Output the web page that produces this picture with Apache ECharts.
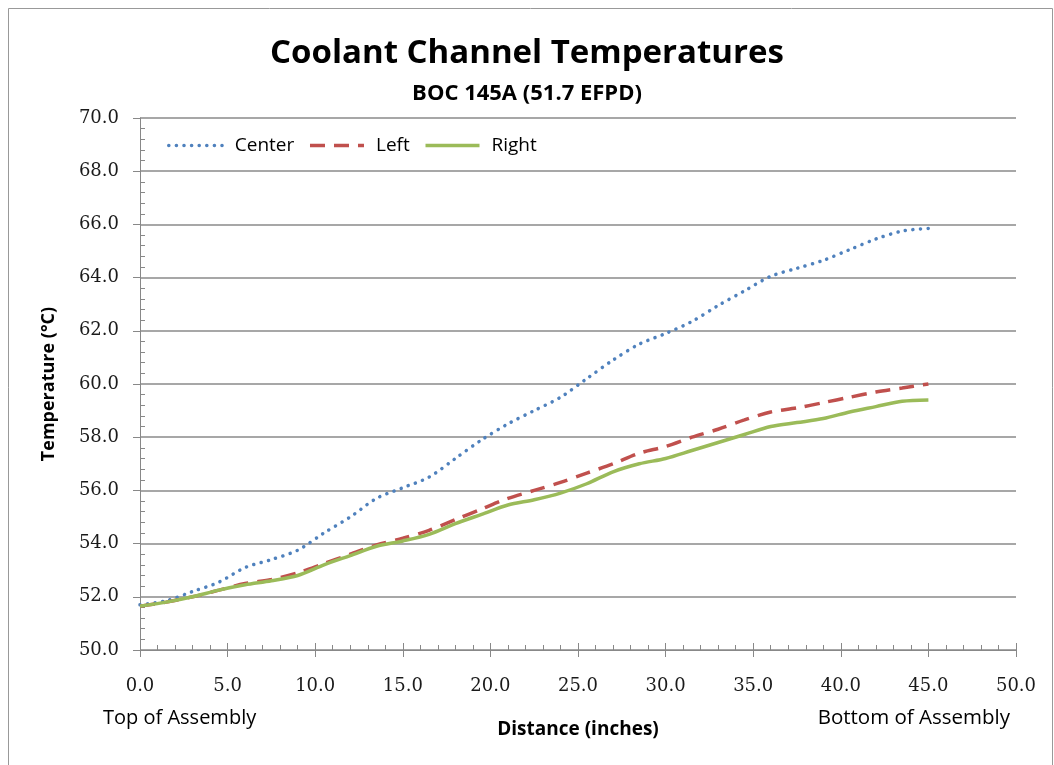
<!DOCTYPE html>
<html>
<head>
<meta charset="utf-8">
<script src="https://cdn.jsdelivr.net/npm/echarts@6/dist/echarts.min.js"></script>
<style>
  html, body { margin: 0; padding: 0; background: #fff; }
  #chart { width: 1054px; height: 765px; }
</style>
</head>
<body>
<div id="chart"></div>
<script>
// distance along the channel (inches)
const distance = [0, 1.5, 3, 4.5, 6, 7.5, 9, 10.5, 12, 13.5, 15, 16.5, 18, 19.5, 21, 22.5,
  24, 25.5, 27, 28.5, 30, 31.5, 33, 34.5, 36, 37.5, 39, 40.5, 42, 43.5, 45]

// temperatures (°C)
const centerTemp = [51.7, 51.85, 52.2, 52.55, 53.1, 53.4, 53.75, 54.4, 55.0, 55.7, 56.1, 56.5,
  57.2, 57.9, 58.5, 59.0, 59.5, 60.2, 60.9, 61.5, 61.9, 62.35, 62.95, 63.5, 64.05, 64.35,
  64.65, 65.05, 65.45, 65.75, 65.85]
const leftTemp = [51.65, 51.8, 52.0, 52.25, 52.5, 52.65, 52.9, 53.25, 53.6, 53.95, 54.2, 54.5,
  54.9, 55.3, 55.7, 56.0, 56.3, 56.65, 57.0, 57.4, 57.65, 58.0, 58.3, 58.65, 58.95, 59.1,
  59.3, 59.5, 59.7, 59.85, 60.0]
const rightTemp = [51.65, 51.8, 52.0, 52.25, 52.45, 52.6, 52.8, 53.2, 53.55, 53.9, 54.1, 54.35,
  54.75, 55.1, 55.45, 55.65, 55.9, 56.25, 56.7, 57.0, 57.2, 57.5, 57.8, 58.1, 58.4, 58.55,
  58.7, 58.95, 59.15, 59.35, 59.4]

const seriesNames = ['Center', 'Left', 'Right']

const pairs = (ys) => distance.map((x, i) => [x, ys[i]])

const chart = echarts.init(document.getElementById('chart'))

const tickFont = { fontFamily: 'DejaVu Serif', fontSize: 18, color: '#1a1a1a' }
const sans = '"Open Sans", "Noto Sans", sans-serif'
const axisGray = '#888'

// second axes only carry the inward minor ticks (Excel style)
const minorOnly = (extra) => Object.assign({
  type: 'value',
  axisLine: { show: false },
  axisLabel: { show: false },
  splitLine: { show: false },
  minorTick: { show: true, splitNumber: 5, length: 5, lineStyle: { color: axisGray } }
}, extra)

const option = {
  animation: false,
  backgroundColor: '#fff',
  title: [
    {
      text: 'Coolant Channel Temperatures',
      left: 'center', top: 32,
      textStyle: { fontFamily: sans, fontSize: 33, fontWeight: 'bold', color: '#000' }
    },
    {
      text: 'BOC 145A (51.7 EFPD)',
      left: 'center', top: 78,
      textStyle: { fontFamily: sans, fontSize: 22, fontWeight: 'bold', color: '#000' }
    }
  ],
  legend: {
    data: seriesNames,
    left: 162, top: 131,
    itemWidth: 54, itemHeight: 14, itemGap: 14,
    itemStyle: { opacity: 0 },
    lineStyle: { width: 3.5 },
    textStyle: { fontFamily: sans, fontSize: 19, color: '#000', padding: [0, 0, 0, 7] }
  },
  grid: { left: 140, right: 38, top: 118, bottom: 115, containLabel: false },
  xAxis: [
    {
      type: 'value', min: 0, max: 50, interval: 5,
      name: 'Distance (inches)', nameLocation: 'middle', nameGap: 70,
      nameTextStyle: { fontFamily: sans, fontSize: 19, fontWeight: 'bold', color: '#000' },
      axisLine: { onZero: false, lineStyle: { color: axisGray, width: 1 } },
      axisTick: { show: true, length: 7, lineStyle: { color: axisGray } },
      axisLabel: Object.assign({ margin: 27, formatter: (v) => v.toFixed(1) }, tickFont),
      splitLine: { show: false }
    },
    minorOnly({
      min: 0, max: 50, interval: 5, position: 'bottom',
      axisTick: { show: true, inside: true, length: 7, lineStyle: { color: axisGray } }
    })
  ],
  yAxis: [
    {
      type: 'value', min: 50, max: 70, interval: 2,
      name: 'Temperature (°C)', nameLocation: 'middle', nameGap: 82, nameRotate: 90,
      nameTextStyle: { fontFamily: sans, fontSize: 18, fontWeight: 'bold', color: '#000' },
      axisLine: { show: true, lineStyle: { color: axisGray, width: 1 } },
      axisTick: { show: true, length: 7, lineStyle: { color: axisGray } },
      axisLabel: Object.assign({ margin: 21, formatter: (v) => v.toFixed(1) }, tickFont),
      splitLine: { show: true, lineStyle: { color: '#8a8a8a', width: 1.5 } }
    },
    minorOnly({
      min: 50, max: 70, interval: 2, position: 'left',
      axisTick: { show: false, inside: true }
    })
  ],
  graphic: [
    {
      type: 'rect', silent: true, z: -1,
      shape: { x: 8.5, y: 8.5, width: 1044, height: 800 },
      style: { fill: 'none', stroke: '#999', lineWidth: 1 }
    },
    {
      type: 'text', left: 103, top: 708,
      style: { text: 'Top of Assembly', fontFamily: sans, fontSize: 20, fill: '#000' }
    },
    {
      type: 'text', right: 44, top: 708,
      style: { text: 'Bottom of Assembly', fontFamily: sans, fontSize: 20.5, fill: '#000' }
    }
  ],
  series: [
    {
      name: seriesNames[0], type: 'line', data: pairs(centerTemp),
      symbol: 'none', smooth: 0.3,
      lineStyle: { color: '#4f81bd', width: 3.5, type: [0.1, 7.5], cap: 'round' },
      itemStyle: { color: '#4f81bd' }
    },
    {
      name: seriesNames[1], type: 'line', data: pairs(leftTemp),
      symbol: 'none', smooth: 0.3,
      lineStyle: { color: '#c0504d', width: 3.5, type: [15, 9] },
      itemStyle: { color: '#c0504d' }
    },
    {
      name: seriesNames[2], type: 'line', data: pairs(rightTemp),
      symbol: 'none', smooth: 0.3,
      lineStyle: { color: '#9bbb59', width: 3.5 },
      itemStyle: { color: '#9bbb59' }
    }
  ]
}

chart.setOption(option)
window.addEventListener('resize', () => chart.resize())
</script>
</body>
</html>
